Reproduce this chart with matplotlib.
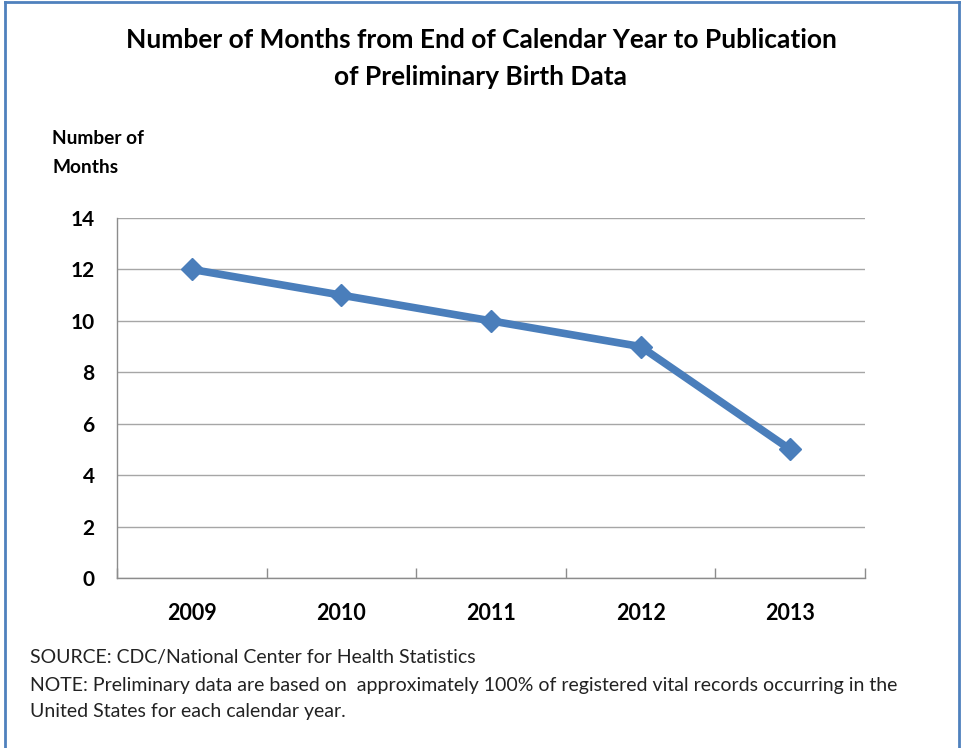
import matplotlib.pyplot as plt
from matplotlib.lines import Line2D

# data
years = ["2009", "2010", "2011", "2012", "2013"]
months = [12, 11, 10, 9, 5]
y_ticks = [0, 2, 4, 6, 8, 10, 12, 14]

plt.rcParams['font.family'] = ['Lato', 'DejaVu Sans']

W, H = 961, 748
fig = plt.figure(figsize=(W / 100, H / 100), dpi=100)

# axes box in pixel coords of the reference
ax = fig.add_axes([117 / W, 1 - 578 / H, (865 - 117) / W, (578 - 218) / H])

x = list(range(len(years)))
ax.plot(x, months, color="#4A7EBB", linewidth=5.5, marker="D", markersize=11,
        markerfacecolor="#4A7EBB", markeredgecolor="#4A7EBB", solid_joinstyle="round")

ax.set_xlim(-0.5, len(years) - 0.5)
ax.set_ylim(0, 14)
ax.set_yticks(y_ticks)
ax.set_yticklabels([str(v) for v in y_ticks], fontsize=15, fontweight="bold")
ax.set_xticks(x)
ax.set_xticklabels(years, fontsize=15.5, fontweight="bold")
ax.set_xticks([i - 0.5 for i in range(len(years) + 1)], minor=True)
ax.tick_params(axis="x", which="major", length=0, pad=18)
ax.tick_params(axis="x", which="minor", direction="in", length=7, color="#8C8C8C", width=1)
ax.tick_params(axis="y", length=0, pad=16)

ax.grid(axis="y", color="#A6A6A6", linewidth=1)
ax.set_axisbelow(True)
for s in ["top", "right"]:
    ax.spines[s].set_visible(False)
for s in ["left", "bottom"]:
    ax.spines[s].set_color("#8C8C8C")
    ax.spines[s].set_linewidth(1)

# title
fig.text(481 / W, 1 - 40 / H, "Number of Months from End of Calendar Year to Publication",
         ha="center", va="center", fontsize=19, fontweight="bold")
fig.text(481 / W, 1 - 77 / H, "of Preliminary Birth Data",
         ha="center", va="center", fontsize=19, fontweight="bold")

# y-axis title
fig.text(52 / W, 1 - 153 / H, "Number of\nMonths", ha="left", va="center",
         fontsize=13.8, fontweight="bold", linespacing=1.8, multialignment="left")

# footnotes
fig.text(30 / W, 1 - 657 / H, "SOURCE: CDC/National Center for Health Statistics",
         ha="left", va="center", fontsize=14, color="#222222")
fig.text(30 / W, 1 - 685 / H,
         "NOTE: Preliminary data are based on  approximately 100% of registered vital records occurring in the",
         ha="left", va="center", fontsize=14, color="#222222")
fig.text(30 / W, 1 - 712 / H, "United States for each calendar year.",
         ha="left", va="center", fontsize=14, color="#222222")

# outer frame (no bottom edge visible)
frame_c = "#4F81BD"
fig.add_artist(Line2D([5 / W, 5 / W], [0, 1 - 2 / H], color=frame_c, linewidth=2))
fig.add_artist(Line2D([5 / W, 959 / W], [1 - 2 / H, 1 - 2 / H], color=frame_c, linewidth=2))
fig.add_artist(Line2D([959 / W, 959 / W], [0, 1 - 2 / H], color=frame_c, linewidth=2))

fig.savefig("out.png", dpi=100)
